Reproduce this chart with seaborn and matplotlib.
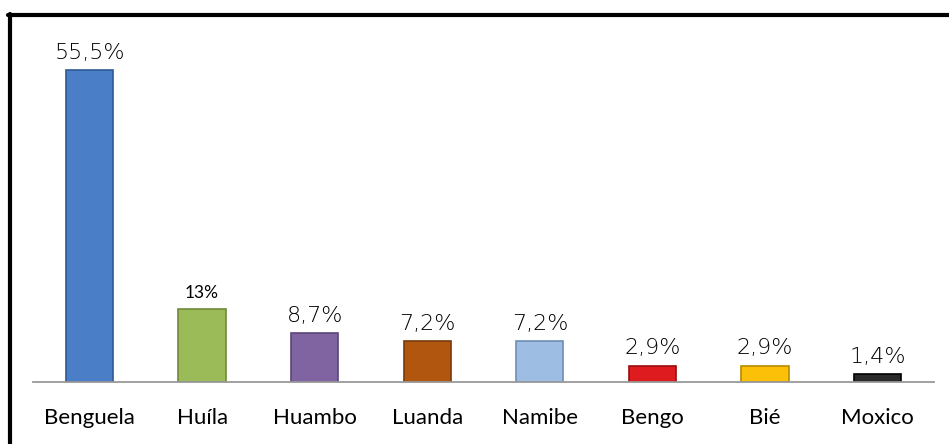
import matplotlib.pyplot as plt
import seaborn as sns
import pandas as pd
from matplotlib.lines import Line2D

provincias = ["Benguela", "Huíla", "Huambo", "Luanda", "Namibe", "Bengo", "Bié", "Moxico"]
percentagens = [55.5, 13, 8.7, 7.2, 7.2, 2.9, 2.9, 1.4]
rotulos = ["55,5%", "13%", "8,7%", "7,2%", "7,2%", "2,9%", "2,9%", "1,4%"]
cores = ["#4a7ec6", "#9bbb59", "#8064a2", "#b0560f", "#9dbde3", "#de1b1f", "#fdc009", "#2a2a2a"]
bordas = ["#2f5a94", "#6f8a3a", "#5a4578", "#7a3a08", "#6f8db3", "#9a0d10", "#b88a00", "#000000"]

df = pd.DataFrame({"Provincia": provincias, "Valor": percentagens})

sns.set_style("white")
fig = plt.figure(figsize=(9.49, 4.44), dpi=100)
ax = fig.add_axes([0.035, 0.14, 0.949, 0.759])

sns.barplot(data=df, x="Provincia", y="Valor", hue="Provincia", palette=cores,
            legend=False, width=0.42, ax=ax, saturation=1)

for barra, borda in zip(ax.patches, bordas):
    barra.set_edgecolor(borda)
    barra.set_linewidth(1.2)

for i, (v, r) in enumerate(zip(percentagens, rotulos)):
    if r == "13%":
        ax.text(i, v + 1.4, r, ha="center", va="bottom", fontsize=12.5, family="Lato",
                color="black")
    else:
        ax.text(i, v + 1.3, r, ha="center", va="bottom", fontsize=16, family="DejaVu Sans",
                fontweight="light", color="black")

ax.set_ylim(0, 60)
ax.set_xlim(-0.5, 7.5)
ax.set_xlabel("")
ax.set_ylabel("")
ax.set_yticks([])
for lado in ["top", "right", "left"]:
    ax.spines[lado].set_visible(False)
ax.spines["bottom"].set_color("#999999")
ax.spines["bottom"].set_linewidth(1.3)
ax.tick_params(axis="x", length=0, pad=19)
for t in ax.get_xticklabels():
    t.set_fontsize(16)
    t.set_family("Lato")
    t.set_color("black")

# moldura (apenas topo e esquerda visíveis)
fig.add_artist(Line2D([8 / 949, 1], [1 - 15.5 / 444, 1 - 15.5 / 444], color="black", lw=3,
                      transform=fig.transFigure))
fig.add_artist(Line2D([10 / 949, 10 / 949], [0, 1 - 14 / 444], color="black", lw=3,
                      transform=fig.transFigure))

plt.savefig("out.png", dpi=100)
plt.close()
